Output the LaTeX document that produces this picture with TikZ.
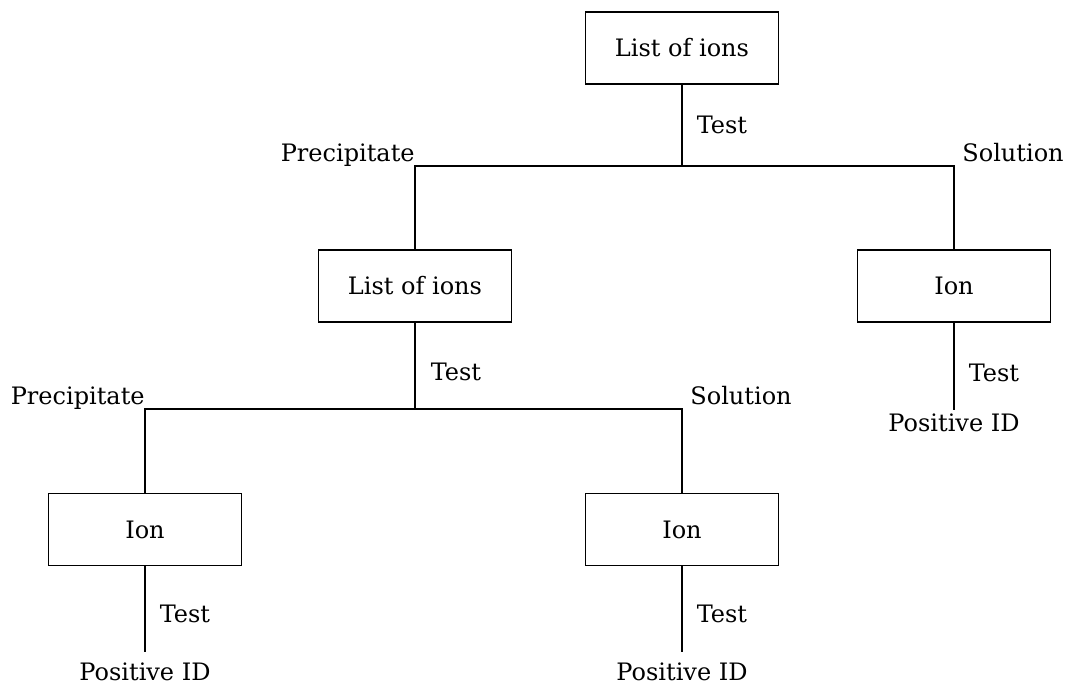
\documentclass[tikz,border=0pt]{standalone}
\usepackage{fontspec}
\setmainfont{DejaVu Serif}
\usetikzlibrary{positioning}
\tikzset{
	ionbox/.style={draw, line width=0.8pt, minimum width=96.5pt, minimum height=36pt,
		inner sep=0pt, font=\fontsize{12}{15}\selectfont},
	lbl/.style={inner sep=0pt, font=\fontsize{12}{15}\selectfont},
	link/.style={line width=0.8pt}
}

\begin{document}
\begin{tikzpicture}[x=0.5pt, y=-0.5pt]
	\useasboundingbox (0,0) rectangle (1066,685);
	% boxes
	\node[ionbox] (top) at (682,48) {List of ions};
	\node[ionbox] (mid) at (415,286) {List of ions};
	\node[ionbox] (ionr) at (954,286) {Ion};
	\node[ionbox] (ionl) at (145,529.5) {Ion};
	\node[ionbox] (ionm) at (682,529.5) {Ion};
	% junctions and line ends
	\coordinate (ja) at (682,166);
	\coordinate (jb) at (415,409);
	\coordinate (er) at (954,410);
	\coordinate (el) at (145,652);
	\coordinate (em) at (682,652);
	% first split
	\draw[link] (top) -- node[lbl, right=7pt] {Test} (ja);
	\draw[link] (mid) |- (ja) -| (ionr);
	\node[lbl, anchor=base east, yshift=2.5pt] (pa) at (mid |- ja) {Precipitate};
	\node[lbl, anchor=base west, xshift=4pt, yshift=2.5pt] (sa) at (ionr |- ja) {Solution};
	% second split
	\draw[link] (mid) -- node[lbl, right=7.5pt, pos=0.57] {Test} (jb);
	\draw[link] (ionl) |- (jb) -| (ionm);
	\node[lbl, anchor=base east, yshift=2.5pt] (pb) at (ionl |- jb) {Precipitate};
	\node[lbl, anchor=base west, xshift=4pt, yshift=2.5pt] (sb) at (ionm |- jb) {Solution};
	% tests on single ions
	\draw[link] (ionr) -- node[lbl, right=7pt, pos=0.57] {Test} (er);
	\node[lbl, below=1.5pt of er] (pr) {Positive ID};
	\draw[link] (ionl) -- node[lbl, right=7pt, pos=0.56] {Test} (el);
	\node[lbl, below=5pt of el] (pl) {Positive ID};
	\draw[link] (ionm) -- node[lbl, right=7pt, pos=0.56] {Test} (em);
	\node[lbl, below=5pt of em] (pm) {Positive ID};
\end{tikzpicture}
\end{document}
